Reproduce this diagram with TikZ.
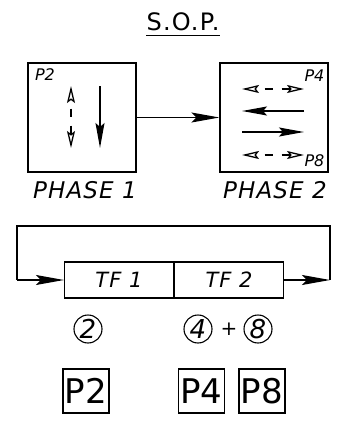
\documentclass[tikz,border=0pt]{standalone}
\usepackage{fontspec}
\setmainfont{DejaVu Sans}
\newfontfamily\spacedfont[LetterSpace=5]{DejaVu Sans}
\usetikzlibrary{calc}
\usetikzlibrary{arrows.meta}
\usetikzlibrary{positioning}
\tikzset{phasebox/.style={draw,line width=1.2pt,minimum width=108pt,minimum height=109pt,inner sep=0pt}}
\tikzset{tfbox/.style={draw,line width=1.1pt,minimum width=109pt,minimum height=36pt,inner sep=0pt,font=\fontsize{21}{21}\spacedfont\itshape}}
\tikzset{pbox/.style={draw,line width=1.1pt,minimum width=46pt,minimum height=44pt,inner sep=0pt,font=\fontsize{34}{34}\selectfont}}
\tikzset{numcirc/.style={draw,circle,line width=1.1pt,minimum size=28pt,inner sep=0pt,font=\fontsize{26}{26}\selectfont\itshape}}
\tikzset{flow/.style={line width=1.3pt,-{Stealth[length=28pt,width=10pt,inset=5pt]}}}
\tikzset{sflow/.style={line width=1.3pt,-{Stealth[length=25pt,width=9pt,inset=4pt]}}}
\tikzset{dflow/.style={line width=1.3pt,{Stealth[open,length=17pt,width=8pt,inset=3pt]}-{Stealth[open,length=17pt,width=8pt,inset=3pt]},dash pattern=on 8pt off 9pt,dash phase=8pt}}
\tikzset{lbl/.style={inner sep=0pt,font=\fontsize{16}{16}\selectfont\itshape}}

\begin{document}
\begin{tikzpicture}[x=1pt,y=-1pt]
\useasboundingbox (0,0) rectangle (343,423);

% title
\node[inner sep=0pt,font=\fontsize{24}{24}\spacedfont](T) at (183,22){S.O.P.};
\draw[line width=1.2pt] ([yshift=-4pt]T.south west)--([yshift=-4pt]T.south east);

% the two phases
\node[phasebox](Ph1) at (82,117.5){};
\node[phasebox](Ph2) at (274,117.5){};
\draw[flow] (Ph1)--(Ph2);
\node[inner sep=0pt,font=\fontsize{23}{23}\spacedfont\itshape](L1) at (85,190){PHASE 1};
\node[inner sep=0pt,font=\fontsize{23}{23}\spacedfont\itshape](L2) at (275,190){PHASE 2};

\node[lbl](P2) at (45,75){P2};
\node[lbl](P4) at (314.5,75.5){P4};
\node[lbl](P8) at (314.5,161){P8};

% arrows in phase 1
\coordinate (A1) at (71,86);
\coordinate (A2) at (71,148);
\coordinate (B1) at (100,86);
\coordinate (B2) at (100,148);
\draw[dflow] (A1)--(A2);
\draw[sflow] (B1)--(B2);

% arrows in phase 2
\foreach \q/\y in {1/89,2/111,3/132,4/155}{
\coordinate (W\q) at (242,\y);
\coordinate (E\q) at (304,\y);
}
\draw[dflow] (W1)--(E1);
\draw[sflow] (E2)--(W2);
\draw[sflow] (W3)--(E3);
\draw[dflow] (W4)--(E4);

% TF loop
\node[tfbox](TF1) at (119,280){TF 1};
\node[tfbox,right=0pt of TF1](TF2){TF 2};
\coordinate (R) at (330,280);
\coordinate (L) at (17,280);
\draw[flow] (TF2)--(R);
\draw[line width=1.3pt] (R)--++(0,-54) -| (L);
\draw[flow] (L)--(TF1);

% numbers
\node[numcirc](C2) at (88,329){2};
\node[numcirc](C4) at (198,329){4};
\node[inner sep=0pt,font=\fontsize{20}{20}\selectfont\itshape](plus) at (229,329){+};
\node[numcirc](C8) at (258,329){8};

\node[pbox](Q2) at (86,391){P2};
\node[pbox](Q4) at (201.5,391){P4};
\node[pbox](Q8) at (262,391){P8};

\end{tikzpicture}
\end{document}
